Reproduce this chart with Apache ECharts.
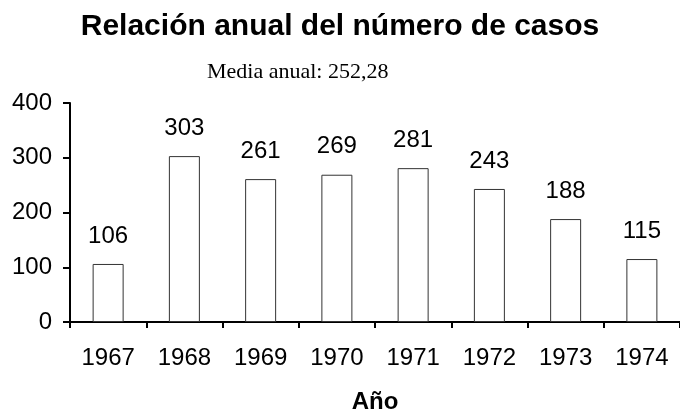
<!DOCTYPE html>
<html>
<head>
<meta charset="utf-8">
<script src="https://cdn.jsdelivr.net/npm/echarts@6/dist/echarts.min.js"></script>
<style>
  html, body { margin: 0; padding: 0; background: #fff; }
  #main { width: 680px; height: 419px; }
</style>
</head>
<body>
<div id="main"></div>
<script>
// datos
const years = ['1967', '1968', '1969', '1970', '1971', '1972', '1973', '1974'];
const casos = [106, 303, 261, 269, 281, 243, 188, 115];
const yTicks = [0, 100, 200, 300, 400];

const chart = echarts.init(document.getElementById('main'));
const option = {
  backgroundColor: '#ffffff',
  animation: false,
  title: [
    {
      text: 'Relación anual del número de casos',
      left: 'center',
      top: 7,
      textStyle: { fontFamily: 'Liberation Sans', fontSize: 30, fontWeight: 'bold', color: '#000' },
    },
    {
      text: 'Media anual: 252,28',
      left: 202,
      top: 56,
      textStyle: { fontFamily: 'Liberation Serif', fontSize: 22, fontWeight: 'normal', color: '#000' },
    },
  ],
  grid: { left: 70, right: 0, top: 103, bottom: 92, containLabel: false },
  xAxis: {
    type: 'category',
    data: years,
    name: 'Año',
    nameLocation: 'middle',
    nameGap: 68,
    nameTextStyle: { fontFamily: 'Liberation Sans', fontSize: 24, fontWeight: 'bold', color: '#000' },
    axisLine: { lineStyle: { color: '#000', width: 2 } },
    axisTick: { show: true, length: 6, lineStyle: { color: '#000', width: 2 } },
    axisLabel: { fontFamily: 'Liberation Sans', fontSize: 24, color: '#000', margin: 24 },
  },
  yAxis: {
    type: 'value',
    min: yTicks[0],
    max: yTicks[yTicks.length - 1],
    interval: 100,
    splitLine: { show: false },
    axisLine: { show: true, lineStyle: { color: '#000', width: 2 } },
    axisTick: { show: true, length: 7, lineStyle: { color: '#000', width: 2 } },
    axisLabel: { fontFamily: 'Liberation Sans', fontSize: 24, color: '#000', margin: 18 },
  },
  series: [
    {
      type: 'bar',
      data: casos,
      barWidth: 31,
      itemStyle: { color: '#ffffff', borderColor: '#333', borderWidth: 1 },
      label: {
        show: true,
        position: 'top',
        distance: 16,
        fontFamily: 'Liberation Sans',
        fontSize: 24,
        color: '#000',
      },
    },
  ],
};
chart.setOption(option);
</script>
</body>
</html>
